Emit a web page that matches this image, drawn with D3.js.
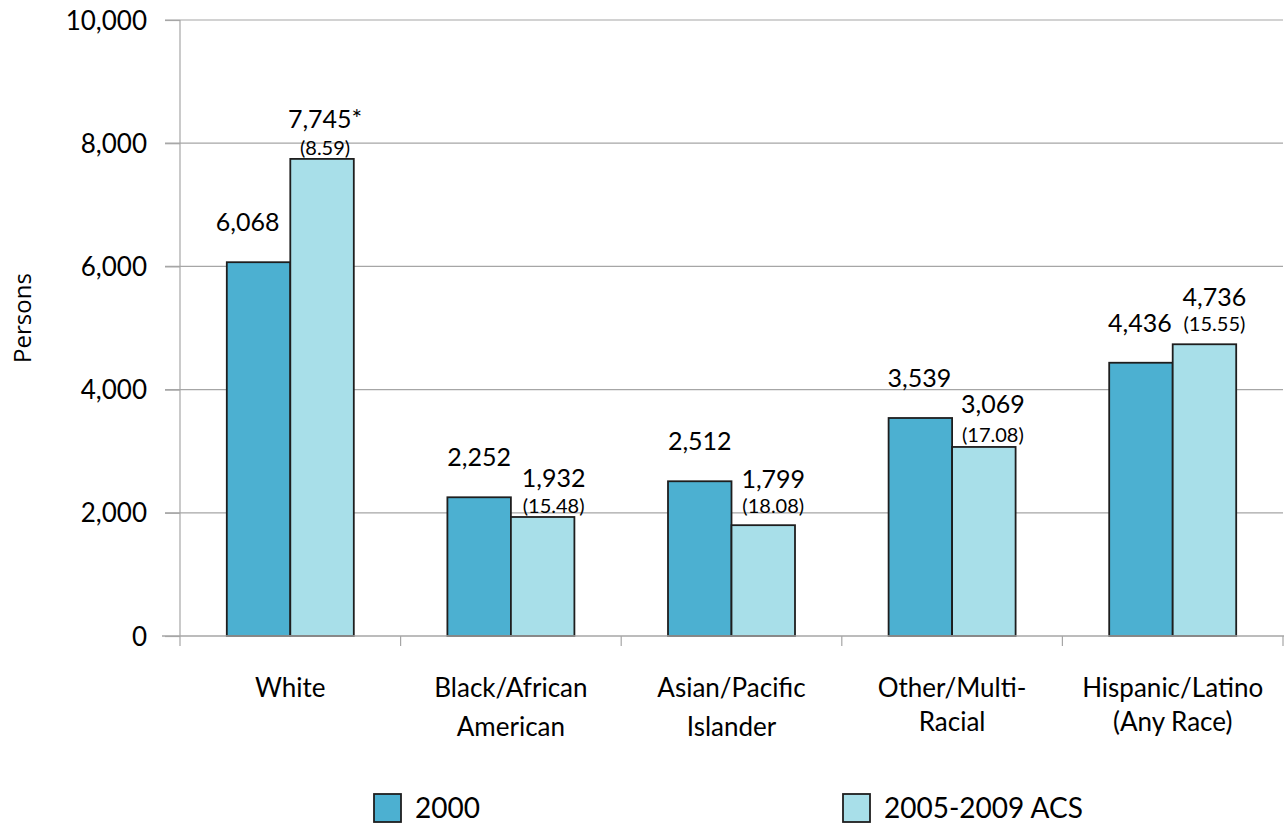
<!DOCTYPE html>
<html>
<head>
<meta charset="utf-8">
<script src="https://cdn.jsdelivr.net/npm/d3@7"></script>
<style>
  html, body { margin: 0; padding: 0; background: #fff; }
  svg { display: block; font-family: Lato, "Open Sans", sans-serif; }
</style>
</head>
<body>
<svg id="chart" width="1284" height="824"></svg>
<script>
// Population by race / ethnicity: Census 2000 vs 2005-2009 ACS estimates
const categories = [
  ["White"],
  ["Black/African", "American"],
  ["Asian/Pacific", "Islander"],
  ["Other/Multi-", "Racial"],
  ["Hispanic/Latino", "(Any Race)"]
];
const seriesNames = ["2000", "2005-2009 ACS"];
const values2000 = [6068, 2252, 2512, 3539, 4436];
const valuesACS = [7745, 1932, 1799, 3069, 4736];
const acsMarks = ["*", "", "", "", ""];          // significance flag
const acsCV = ["8.59", "15.48", "18.08", "17.08", "15.55"];   // coefficient of variation
const yTicks = [0, 2000, 4000, 6000, 8000, 10000];

// layout nudges for the labels (pixels)
const shift2000 = [-11, 0, 0, -1, -1];
const shiftACS = [3, 11, 10, 9, 10];
const cvGap = [4, 4, 12, 5, 13];
const valGap = [27, 26, 25, 29, 25];
const catLineGap = [0, 39, 39, 34, 34];

const colors = ["#4cb0d1", "#a8dfe9"];
const svg = d3.select("#chart");

const plotLeft = 180, plotRight = 1283, plotTop = 20, plotBottom = 636;
const y = d3.scaleLinear().domain([0, 10000]).range([plotBottom, plotTop]);
const keys = categories.map(c => c.join(" "));
const x0 = d3.scaleBand().domain(keys).range([plotLeft, plotRight]).padding(0);
const x1 = d3.scaleBand().domain(seriesNames).range([0, x0.bandwidth()])
  .paddingInner(0).paddingOuter(0.737);

const fmt = d3.format(",");

// horizontal gridlines
svg.append("g").selectAll("line").data(yTicks.filter(t => t > 0)).join("line")
  .attr("x1", 165).attr("x2", plotRight)
  .attr("y1", d => y(d)).attr("y2", d => y(d))
  .attr("stroke", "#a6a6a6").attr("stroke-width", 1.2);

// y axis labels
const yAxis = d3.axisLeft(y).tickValues(yTicks).tickFormat(fmt).tickSize(15).tickPadding(18);
const gy = svg.append("g").attr("transform", `translate(${plotLeft},0)`).call(yAxis);
gy.select(".domain").remove();
gy.selectAll(".tick line").attr("stroke", "#a6a6a6").attr("stroke-width", 1.2);
gy.selectAll(".tick text").attr("font-size", 26).attr("fill", "#000")
  .attr("font-family", "Lato, sans-serif").attr("dy", "0.35em");

// y axis line
svg.append("line").attr("x1", plotLeft).attr("x2", plotLeft).attr("y1", plotTop).attr("y2", plotBottom)
  .attr("stroke", "#a6a6a6").attr("stroke-width", 1.2);

// bars
const rows = keys.map((k, i) => ({ key: k, i, vals: [values2000[i], valuesACS[i]] }));
const groups = svg.append("g").selectAll("g").data(rows).join("g")
  .attr("transform", d => `translate(${x0(d.key)},0)`);
groups.selectAll("rect").data(d => d.vals.map((v, j) => ({ v, s: seriesNames[j], j }))).join("rect")
  .attr("x", d => x1(d.s))
  .attr("width", x1.bandwidth())
  .attr("y", d => y(d.v))
  .attr("height", d => y(0) - y(d.v))
  .attr("fill", d => colors[d.j])
  .attr("stroke", "#1e1e1e").attr("stroke-width", 1.8);

// x axis baseline and category ticks
svg.append("line").attr("x1", 162).attr("x2", plotRight + 1).attr("y1", plotBottom).attr("y2", plotBottom)
  .attr("stroke", "#a6a6a6").attr("stroke-width", 1.4);
const bounds = keys.map(k => x0(k)).concat([plotRight]);
svg.append("g").selectAll("line").data(bounds).join("line")
  .attr("x1", d => d).attr("x2", d => d).attr("y1", plotBottom).attr("y2", plotBottom + 10)
  .attr("stroke", "#a6a6a6").attr("stroke-width", 1.2);

// category labels
const cat = svg.append("g").selectAll("text").data(categories).join("text")
  .attr("x", (d, i) => x0(keys[i]) + x0.bandwidth() / 2)
  .attr("y", 697)
  .attr("text-anchor", "middle").attr("font-size", 26).attr("fill", "#000");
cat.each(function (lines, i) {
  d3.select(this).selectAll("tspan").data(lines).join("tspan")
    .attr("x", x0(keys[i]) + x0.bandwidth() / 2)
    .attr("dy", (d, j) => j === 0 ? 0 : catLineGap[i])
    .text(d => d);
});

// 2000 value labels
svg.append("g").selectAll("text").data(values2000).join("text")
  .attr("x", (d, i) => x0(keys[i]) + x1(seriesNames[0]) + x1.bandwidth() / 2 + shift2000[i])
  .attr("y", d => y(d) - 31)
  .attr("text-anchor", "middle").attr("font-size", 25).attr("fill", "#000")
  .text(d => fmt(d));

// ACS value labels with CV in parentheses
const acsX = i => x0(keys[i]) + x1(seriesNames[1]) + x1.bandwidth() / 2 + shiftACS[i];
svg.append("g").selectAll("text").data(valuesACS).join("text")
  .attr("x", (d, i) => acsX(i))
  .attr("y", (d, i) => y(d) - cvGap[i])
  .attr("text-anchor", "middle").attr("font-size", 20).attr("fill", "#000")
  .text((d, i) => `(${acsCV[i]})`);
svg.append("g").selectAll("text").data(valuesACS).join("text")
  .attr("x", (d, i) => acsX(i))
  .attr("y", (d, i) => y(d) - cvGap[i] - valGap[i])
  .attr("text-anchor", "middle").attr("font-size", 25).attr("fill", "#000")
  .text((d, i) => fmt(d) + acsMarks[i]);

// y axis title
svg.append("text")
  .attr("transform", `translate(31,318) rotate(-90)`)
  .attr("text-anchor", "middle").attr("font-size", 24).attr("fill", "#000")
  .attr("font-family", "'Open Sans', sans-serif")
  .text("Persons");

// legend
const legendX = [374, 843];
const leg = svg.append("g").selectAll("g").data(seriesNames).join("g")
  .attr("transform", (d, i) => `translate(${legendX[i]},794)`);
leg.append("rect").attr("width", 27).attr("height", 28)
  .attr("fill", (d, i) => colors[i]).attr("stroke", "#1e1e1e").attr("stroke-width", 1.8);
leg.append("text").attr("x", 41).attr("y", 24).attr("font-size", 28).attr("fill", "#000")
  .text(d => d);
</script>
</body>
</html>
